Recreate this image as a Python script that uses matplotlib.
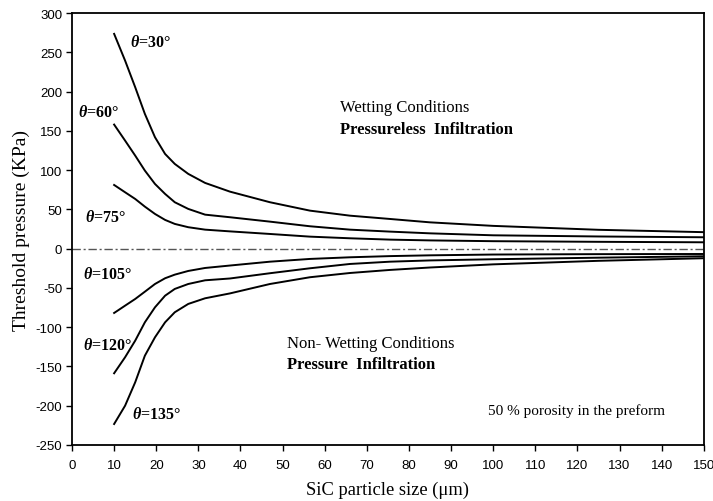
import matplotlib
matplotlib.use("Agg")
import matplotlib.pyplot as plt

plt.rcParams['mathtext.fontset'] = 'custom'
plt.rcParams['mathtext.it'] = 'Liberation Serif:italic:bold'
plt.rcParams['mathtext.rm'] = 'Liberation Serif:bold'
plt.rcParams['axes.unicode_minus'] = False

size = [10, 12.6, 15.0, 17.3, 19.7, 22.1, 24.4, 27.6, 31.6, 37.5, 47.0, 56.5, 66.0, 75.5, 85, 100, 125, 150]
p30 = [273.5, 239.5, 205.6, 171.6, 141.9, 120.6, 107.9, 95.2, 83.7, 72.6, 59.1, 48.4, 42.0, 37.8, 33.5, 29.0, 24.0, 21.0]
p60 = [158.0, 137.6, 118.5, 99.4, 82.4, 69.7, 59.1, 50.6, 43.3, 40.0, 34.4, 28.5, 24.2, 21.7, 19.5, 17.0, 15.5, 14.5]
p75 = [81.1, 71.8, 63.3, 53.5, 44.2, 36.6, 31.5, 27.3, 24.2, 22.0, 18.7, 15.3, 13.2, 11.5, 10.5, 9.5, 8.7, 8.1]
p105 = [-81.9, -72.6, -64.1, -54.8, -45.0, -37.7, -33.1, -28.4, -24.6, -21.5, -16.6, -13.1, -11.0, -9.5, -8.5, -7.5, -7.0, -6.8]
p120 = [-158.7, -138.3, -117.2, -93.8, -74.7, -59.9, -51.3, -45.0, -40.3, -38.0, -31.3, -25.0, -19.5, -16.6, -15.0, -13.5, -11.5, -9.7]
p135 = [-223.3, -200.0, -170.2, -136.3, -112.9, -93.8, -81.0, -70.4, -63.2, -57.0, -45.0, -36.4, -31.0, -27.1, -24.0, -20.0, -15.5, -12.2]

series = [p30, p60, p75, p105, p120, p135]
labels = ["30", "60", "75", "105", "120", "135"]
label_pos = [(13.8, 263), (1.5, 174), (3.2, 40), (2.5, -32), (2.5, -123), (14.3, -210)]

xticks = list(range(0, 151, 10))
yticks = list(range(-250, 301, 50))

fig = plt.figure(figsize=(7.13, 5.02), dpi=100)
ax = fig.add_axes([0.101, 0.1116, 0.886, 0.8604])

for s in series:
    ax.plot(size, s, color='black', lw=1.4, solid_joinstyle='round')

ax.axhline(0, color='#555555', lw=1.0, linestyle=(0, (6, 2, 1.5, 2)))

serif = 'Liberation Serif'
for lab, (x, y) in zip(labels, label_pos):
    ax.text(x, y, r"$\theta$=" + lab + "°", fontsize=11.5, fontweight='bold',
            family=serif, ha='left', va='center')

ax.text(63.6, 180, "Wetting Conditions", fontsize=12, family=serif, ha='left', va='center')
ax.text(63.6, 152.5, "Pressureless  Infiltration", fontsize=12, family=serif,
        fontweight='bold', ha='left', va='center')
ax.text(51.1, -120, "Non- Wetting Conditions", fontsize=12, family=serif, ha='left', va='center')
ax.text(51.1, -147, "Pressure  Infiltration", fontsize=12, family=serif,
        fontweight='bold', ha='left', va='center')
ax.text(98.7, -206, "50 % porosity in the preform", fontsize=11, family=serif,
        ha='left', va='center')

ax.set_xlim(0, 150)
ax.set_ylim(-250, 300)
ax.set_xticks(xticks)
ax.set_yticks(yticks)
for t in ax.get_xticklabels() + ax.get_yticklabels():
    t.set_family('Liberation Sans')
    t.set_fontsize(9.5)
ax.tick_params(axis='y', direction='out', length=4, width=1.0, pad=3)
ax.tick_params(axis='x', direction='out', length=4, width=1.0, pad=6)
for sp in ax.spines.values():
    sp.set_linewidth(1.3)

ax.set_xlabel("SiC particle size (μm)", fontsize=13.3, family=serif, labelpad=7)
ax.set_ylabel("Threshold pressure (KPa)", fontsize=14, family=serif, labelpad=4)

fig.savefig("out.png", dpi=100)
